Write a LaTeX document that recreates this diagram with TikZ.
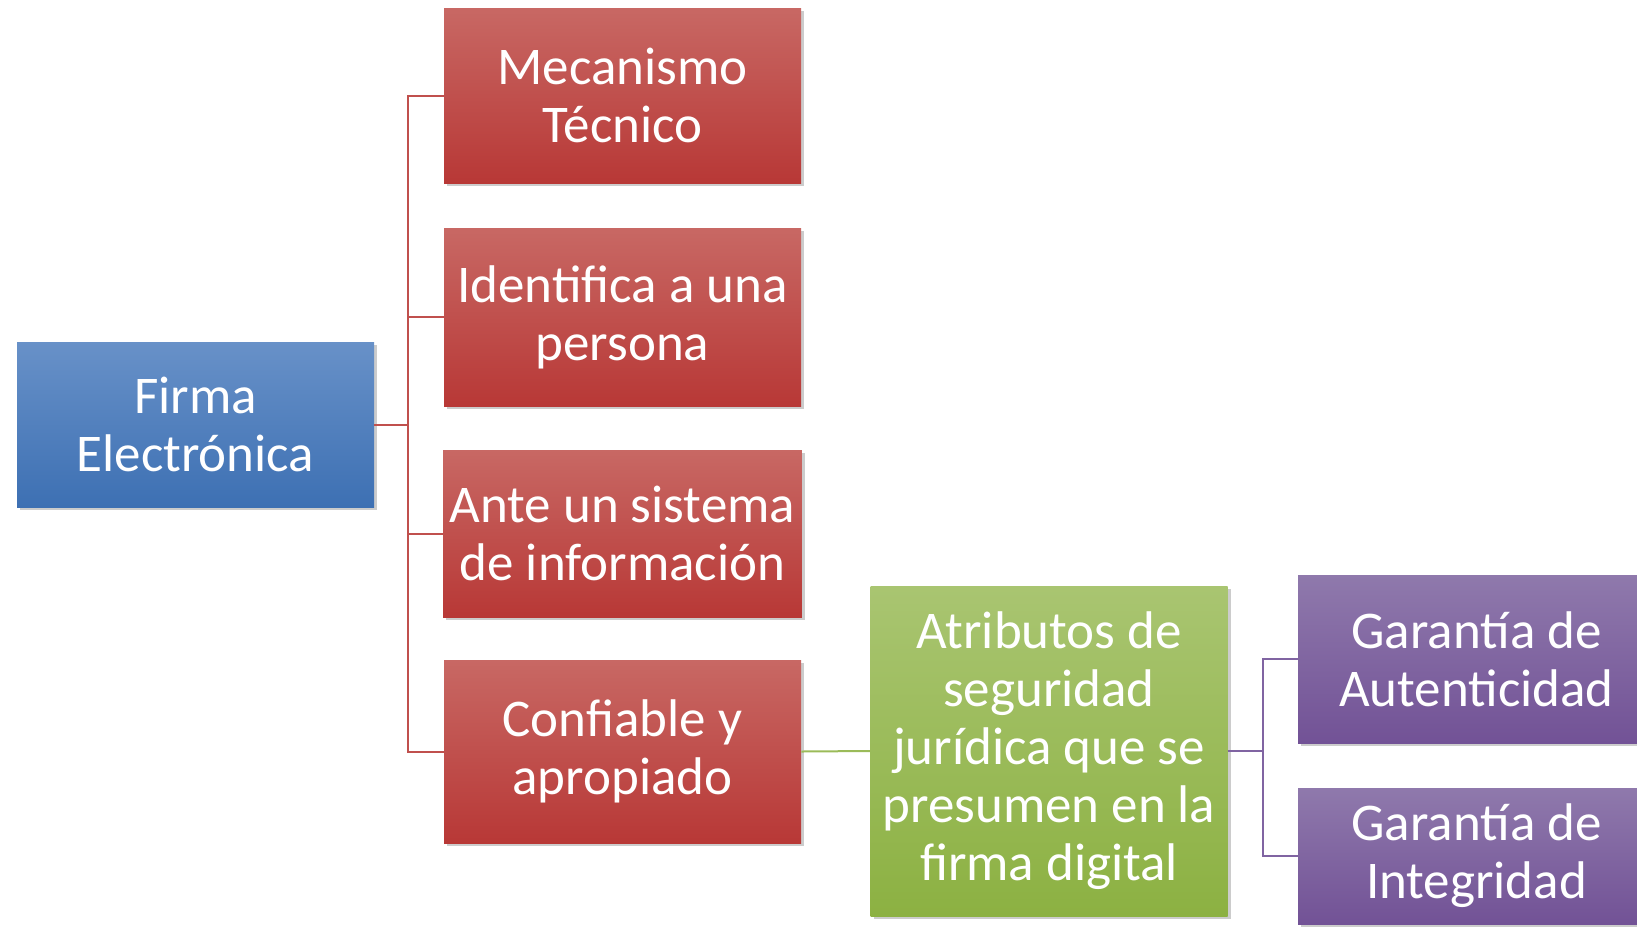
\documentclass[tikz,border=0pt]{standalone}
\usepackage{fontspec}
\setmainfont{Carlito}
\usepackage{tikz}
\usetikzlibrary{shadows,positioning}
\definecolor{bluetop}{RGB}{104,145,200}
\definecolor{bluebot}{RGB}{61,112,179}
\definecolor{redtop}{RGB}{200,104,100}
\definecolor{redbot}{RGB}{184,56,54}
\definecolor{redline}{RGB}{192,80,77}
\definecolor{greentop}{RGB}{169,197,113}
\definecolor{greenbot}{RGB}{140,177,66}
\definecolor{greenline}{RGB}{155,187,89}
\definecolor{purpletop}{RGB}{143,121,172}
\definecolor{purplebot}{RGB}{114,82,150}
\definecolor{purpleline}{RGB}{128,100,162}
\tikzset
{
    box/.style      = {rectangle, align=center, text=white, minimum width=178.5pt,
                       font=\fontsize{26.5}{29}\selectfont,
                       drop shadow={shadow xshift=1.5pt, shadow yshift=-1.5pt, opacity=0.4}},
    rootbox/.style  = {box, top color=bluetop, bottom color=bluebot},
    itembox/.style  = {box, top color=redtop, bottom color=redbot},
    attrbox/.style  = {box, top color=greentop, bottom color=greenbot},
    gtiabox/.style  = {box, top color=purpletop, bottom color=purplebot},
    link/.style     = {line width=1pt}
}
\begin{document}
\begin{tikzpicture}[x=0.5pt, y=-0.5pt]
    \useasboundingbox (0,0) rectangle (1637,927);
    % boxes
    \node [rootbox, minimum height=82.5pt] (firma) at (195.5,424.5) {Firma\\Electrónica};
    \node [itembox, minimum height=87.5pt] (mecanismo) at (622.5,95.5) {Mecanismo\\Técnico};
    \node [itembox, minimum height=89pt] (identifica) at (622.5,317) {Identifica a una\\persona};
    \node [itembox, minimum height=83.5pt] (ante) at (622.5,533.5) {Ante un sistema\\de información};
    \node [itembox, minimum height=91.5pt] (confiable) at (622.5,751.5) {Confiable y\\apropiado};
    \node [attrbox, minimum height=165pt] (atributos) at (1049,751) {Atributos de\\seguridad\\jurídica que se\\presumen en la\\firma digital};
    \node [gtiabox, minimum height=84pt] (autenticidad) at (1476.5,659) {Garantía de\\Autenticidad};
    \node [gtiabox, minimum height=68pt] (integridad) at (1476.5,856) {Garantía de\\Integridad};

    % connectors
    \foreach \item in {mecanismo, identifica, ante, confiable}
    {
        \draw [link, redline] (firma.east) -- ++(34,0) |- (\item.west);
    }
    \draw [link, greenline] (confiable.east) -- (atributos.west);
    \foreach \item in {autenticidad, integridad}
    {
        \draw [link, purpleline] (atributos.east) -- ++(35,0) |- (\item.west);
    }
\end{tikzpicture}
\end{document}
